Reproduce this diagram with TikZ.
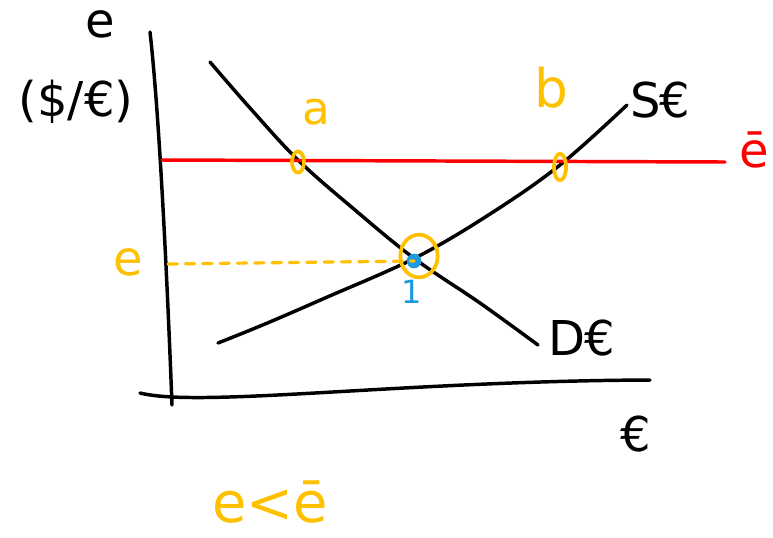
\documentclass[tikz,border=0pt]{standalone}
\usepackage{fontspec}
\setmainfont{DejaVu Sans}
\usetikzlibrary{positioning,shapes.geometric}
\definecolor{SketchYellow}{HTML}{FFC000}
\definecolor{SketchRed}{HTML}{FF0000}
\definecolor{SketchBlue}{HTML}{1E9BE0}

\begin{document}
\begin{tikzpicture}[
    x=0.75pt,y=-0.75pt,
    line cap=round,line join=round,
    pen/.style={line width=2.6pt},
    hit/.style={ellipse,draw=SketchYellow,line width=2.8pt,inner sep=0pt},
    label big/.style={font=\fontsize{36}{42}\selectfont},
    label mid/.style={font=\fontsize{34}{40}\selectfont}
  ]
  \useasboundingbox (0,0) rectangle (773,537);

  % axes
  \coordinate (yTop) at (150,32);
  \coordinate (yBot) at (172,405);
  \coordinate (xLeft) at (140,393);
  \coordinate (xRight) at (650,380);
  \draw[pen] (yTop) .. controls (160,120) and (168,300) .. (yBot);
  \draw[pen] (xLeft) .. controls (200,408) and (400,381) .. (xRight);

  % axis labels
  \node[label big] (yName) at (100,24) {e};
  \node[label big] (yUnit) at (76,102) {(\$/€)};
  \node[label big] (xName) at (636,434) {€};

  % demand and supply
  \draw[pen] plot[smooth,tension=0.6] coordinates
    {(210,62) (250,108) (298,160) (355,210) (415,259) (480,303) (538,345)};
  \draw[pen] plot[smooth,tension=0.6] coordinates
    {(218,343) (265,324) (325,298) (415,258) (490,214) (560,165) (627,105)};
  \node[label big,anchor=west] (supName) at (626,100) {S\kern-1pt€};
  \node[label big,anchor=west] (demName) at (544,338) {D\kern-1pt€};

  % fixed rate
  \coordinate (barLeft) at (162,160);
  \coordinate (barRight) at (725,162);
  \draw[SketchRed,pen] (barLeft) -- (barRight);
  \node[label big,text=SketchRed] (barName) at (754,150) {ē};

  % points
  \node[hit,minimum width=9pt,minimum height=16pt] (ptA) at (298,162) {};
  \node[hit,minimum width=9pt,minimum height=20pt] (ptB) at (560,167) {};
  \node[hit,minimum width=28pt,minimum height=32pt] (ptOne) at (419,256) {};
  \fill[SketchBlue] (414,261) circle[radius=5.5pt] coordinate (dotOne);
  \node[label mid,text=SketchYellow] (aName) at (316,112) {a};
  \node[font=\fontsize{40}{46}\selectfont,text=SketchYellow] (bName) at (551,88) {b};
  \node[font=\fontsize{24}{28}\selectfont,text=SketchBlue] (oneName) at (412,292) {1};

  % equilibrium rate
  \node[label big,text=SketchYellow] (eName) at (128,262) {e};
  \coordinate (eTick) at (168,264);
  \draw[SketchYellow,line width=2.4pt,dash pattern=on 7pt off 6pt]
    (eTick) -- (dotOne);

  \node[font=\fontsize{42}{48}\selectfont,text=SketchYellow] (compare) at (270,502) {e<ē};
\end{tikzpicture}
\end{document}
